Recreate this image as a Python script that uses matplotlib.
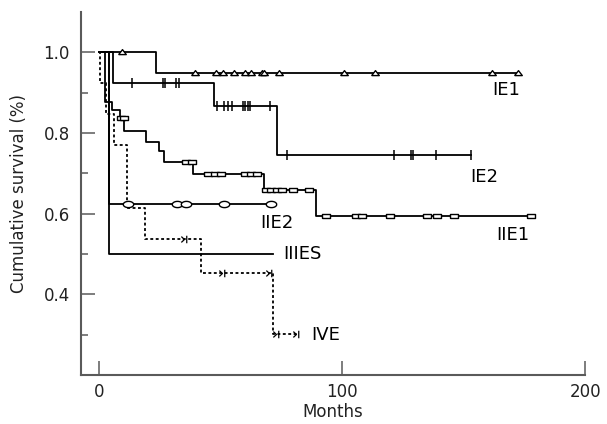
import numpy as np
import matplotlib
matplotlib.use("Agg")
import matplotlib.pyplot as plt
from matplotlib.path import Path

# Kaplan-Meier steps per stage: event times (months) and survival after each step
ie1_times = [0, 23.3]
ie1_surv = [1.0, 0.948]
ie1_end = 172.2
ie1_cens = [9.2, 39.4, 48.0, 50.8, 55.3, 59.8, 62.6, 66.8, 67.9, 74.0,
            100.8, 113.5, 161.5, 172.2]

ie2_times = [0, 5.5, 47.3, 73.0]
ie2_surv = [1.0, 0.923, 0.866, 0.745]
ie2_end = 153.0
ie2_cens = [13.3, 26.1, 27.0, 31.6, 32.7, 48.5, 51.4, 52.8, 54.5, 59.0,
            60.1, 61.1, 62.0, 70.2, 77.1, 121.4, 128.3, 129.2, 138.6, 153.0]

iie1_times = [0, 2.3, 5.2, 8.5, 10.3, 19.2, 24.7, 26.6, 38.7, 67.9, 89.3]
iie1_surv = [1.0, 0.877, 0.857, 0.836, 0.804, 0.778, 0.756, 0.728, 0.699,
             0.658, 0.594]
iie1_end = 177.5
iie1_cens = [8.8, 10.0, 35.7, 38.1, 44.7, 47.5, 50.1, 59.8, 62.4, 65.1,
             68.5, 70.7, 73.0, 75.2, 79.8, 86.2, 93.3, 105.6, 108.2, 119.6,
             134.7, 139.1, 146.0, 177.5]

iie2_times = [0, 4.2]
iie2_surv = [1.0, 0.625]
iie2_end = 70.7
iie2_cens = [11.7, 31.9, 35.7, 51.3, 70.7]

iiies_times = [0, 4.0]
iiies_surv = [1.0, 0.5]
iiies_end = 71.5

ive_times = [0, 0.2, 2.8, 6.2, 11.3, 18.8, 41.7, 71.4]
ive_surv = [1.0, 0.923, 0.846, 0.769, 0.615, 0.538, 0.452, 0.301]
ive_end = 81.2
ive_cens = [35.3, 50.8, 70.2, 73.0, 81.2]

labels = ["IE1", "IE2", "IIE1", "IIE2", "IIIES", "IVE"]
label_pos = [(161.5, 0.906), (152.6, 0.691), (163.5, 0.546),
             (66.1, 0.577), (75.7, 0.499), (87.1, 0.298)]


def surv_at(times, surv, t):
    i = np.searchsorted(times, t, side="right") - 1
    return np.asarray(surv)[i]


def draw_curve(ax, times, surv, end, cens, marker, ms, ls="-",
               face="white", mew=1.0):
    x = list(times) + [end]
    y = list(surv) + [surv[-1]]
    ax.plot(x, y, drawstyle="steps-post", color="black", lw=1.3, ls=ls,
            zorder=2)
    if cens:
        cy = [surv_at(times, surv, c) for c in cens]
        ax.plot(cens, cy, ls="none", marker=marker, ms=ms, mfc=face,
                mec="black", mew=mew, zorder=3)


# censor marker shapes
tri = [(-1, -0.55), (1, -0.55), (0, 0.75), (-1, -0.55)]
rect = [(-1, -0.55), (1, -0.55), (1, 0.55), (-1, 0.55), (-1, -0.55)]
ang = np.linspace(0, 2 * np.pi, 40)
ell = list(zip(np.cos(ang), 0.6 * np.sin(ang)))
arrow_bar = Path([(-1.0, 0.7), (-0.25, 0.0), (-1.0, -0.7), (0.3, 0.9), (0.3, -0.9)],
                 [Path.MOVETO, Path.LINETO, Path.LINETO, Path.MOVETO, Path.LINETO])

plt.rcParams["font.family"] = ["DejaVu Sans"]
fig = plt.figure(figsize=(6.07, 4.24), dpi=100)
ax = fig.add_axes([0.1334, 0.1156, 0.8309, 0.8563])

draw_curve(ax, ie1_times, ie1_surv, ie1_end, ie1_cens, tri, 5.5)
draw_curve(ax, ie2_times, ie2_surv, ie2_end, ie2_cens, "|", 7, mew=1.1)
draw_curve(ax, iie1_times, iie1_surv, iie1_end, iie1_cens, rect, 5.2)
draw_curve(ax, iie2_times, iie2_surv, iie2_end, iie2_cens, ell, 7.5)
draw_curve(ax, iiies_times, iiies_surv, iiies_end, [], None, 0)
draw_curve(ax, ive_times, ive_surv, ive_end, ive_cens, arrow_bar, 6,
           ls=(0, (1.6, 1.4)), face="none", mew=0.9)

for lab, (lx, ly) in zip(labels, label_pos):
    ax.text(lx, ly, lab, fontsize=13, ha="left", va="center")

ax.set_xlim(-7.5, 200)
ax.set_ylim(0.2, 1.1)
ax.set_xticks([0, 100, 200])
ax.set_yticks([0.4, 0.6, 0.8, 1.0])
ax.set_yticks([0.3, 0.5, 0.7, 0.9], minor=True)
ax.set_yticklabels(["0.4", "0.6", "0.8", "1.0"])

for side in ["top", "right"]:
    ax.spines[side].set_visible(False)
for side in ["left", "bottom"]:
    ax.spines[side].set_color("#5a5a5a")
    ax.spines[side].set_linewidth(1.5)

ax.tick_params(axis="both", which="major", direction="in", length=10,
               width=1.1, color="#5a5a5a", labelsize=12, labelcolor="#222222")
ax.tick_params(axis="x", pad=6)
ax.tick_params(axis="y", which="major", pad=8)
ax.tick_params(axis="y", which="minor", direction="in", length=5,
               width=1.1, color="#5a5a5a")

ax.set_xlabel("Months", fontsize=12, color="#222222", labelpad=1)
ax.set_ylabel("Cumulative survival (%)", fontsize=12, color="#222222")
ax.yaxis.set_label_coords(-0.105, 0.5)

fig.savefig("out.png", dpi=100)
